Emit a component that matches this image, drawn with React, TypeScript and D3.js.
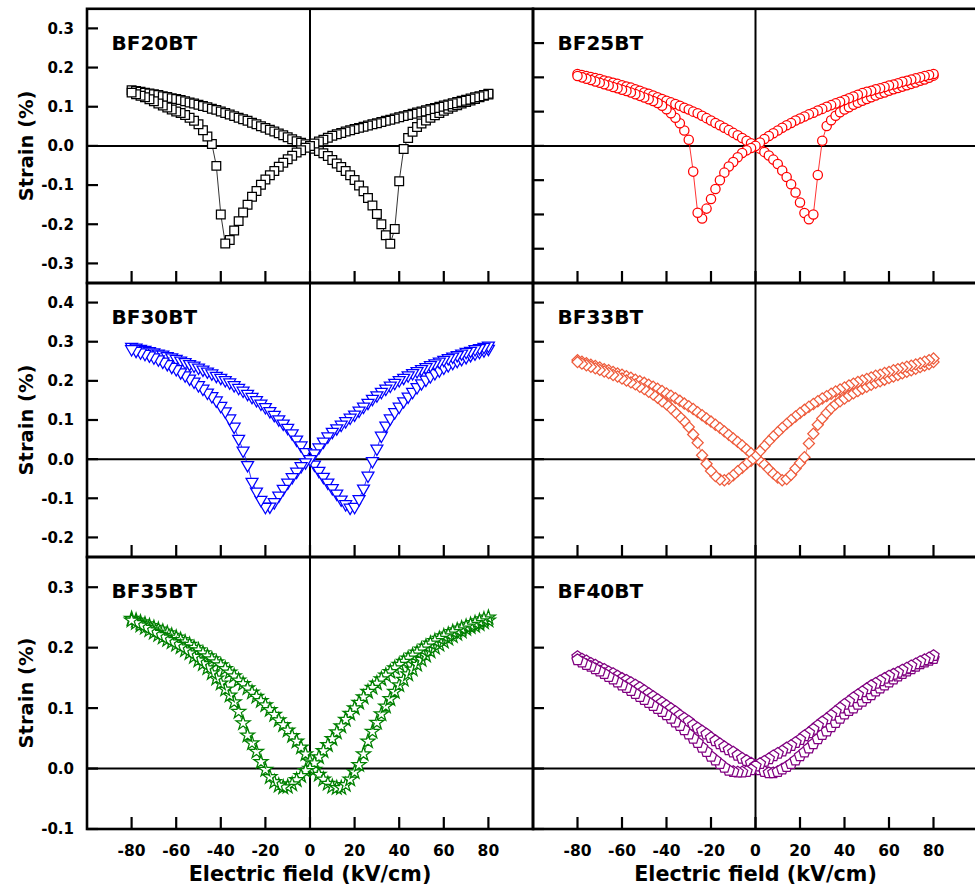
import React from 'react';
import * as d3 from 'd3';

// Electric field grid (kV/cm)
const FIELD = [
  -80, -78, -76, -74, -72, -70, -68, -66, -64, -62, -60, -58, -56, -54, -52, -50, -48, -46, -44, -42,
  -40, -38, -36, -34, -32, -30, -28, -26, -24, -22, -20, -18, -16, -14, -12, -10, -8, -6, -4, -2,
  0, 2, 4, 6, 8, 10, 12, 14, 16, 18, 20, 22, 24, 26, 28, 30, 32, 34, 36, 38,
  40, 42, 44, 46, 48, 50, 52, 54, 56, 58, 60, 62, 64, 66, 68, 70, 72, 74, 76, 78, 80,
];

// Strain (%) values aligned with FIELD; "UP" = field rising branch, "DOWN" = field falling branch
const BF20BT_UP = [
  0.142, 0.140, 0.138, 0.136, 0.134, 0.132, 0.130, 0.127, 0.125, 0.122, 0.120, 0.117, 0.114, 0.111, 0.108, 0.105, 0.102, 0.099, 0.095, 0.092,
  0.088, 0.084, 0.080, 0.076, 0.072, 0.068, 0.064, 0.059, 0.055, 0.050, 0.046, 0.041, 0.037, 0.032, 0.027, 0.022, 0.017, 0.012, 0.008, 0.004,
  0.000, -0.007, -0.013, -0.019, -0.026, -0.036, -0.045, -0.054, -0.064, -0.075, -0.087, -0.101, -0.116, -0.133, -0.152, -0.174, -0.200, -0.228, -0.250, -0.212,
  -0.090, -0.008, 0.020, 0.036, 0.048, 0.057, 0.065, 0.072, 0.078, 0.084, 0.090, 0.095, 0.100, 0.104, 0.108, 0.112, 0.116, 0.120, 0.124, 0.128, 0.131,
];
const BF20BT_DOWN = [
  0.136, 0.132, 0.128, 0.124, 0.119, 0.114, 0.108, 0.103, 0.098, 0.093, 0.088, 0.084, 0.079, 0.072, 0.064, 0.055, 0.040, 0.024, 0.005, -0.051,
  -0.175, -0.249, -0.240, -0.216, -0.192, -0.170, -0.150, -0.130, -0.115, -0.099, -0.086, -0.075, -0.064, -0.053, -0.043, -0.034, -0.025, -0.017, -0.011, -0.005,
  0.000, 0.006, 0.011, 0.016, 0.021, 0.026, 0.030, 0.033, 0.037, 0.040, 0.043, 0.046, 0.049, 0.052, 0.055, 0.058, 0.061, 0.064, 0.067, 0.070,
  0.073, 0.076, 0.079, 0.082, 0.085, 0.088, 0.091, 0.094, 0.097, 0.100, 0.103, 0.106, 0.109, 0.112, 0.115, 0.118, 0.121, 0.124, 0.127, 0.130, 0.133,
];

const BF25BT_UP = [
  0.210, 0.207, 0.204, 0.201, 0.198, 0.195, 0.191, 0.188, 0.184, 0.181, 0.177, 0.173, 0.170, 0.165, 0.161, 0.156, 0.152, 0.147, 0.142, 0.137,
  0.132, 0.127, 0.122, 0.117, 0.111, 0.106, 0.100, 0.095, 0.088, 0.081, 0.074, 0.067, 0.060, 0.053, 0.046, 0.038, 0.031, 0.023, 0.015, 0.008,
  0.000, -0.008, -0.018, -0.028, -0.040, -0.053, -0.072, -0.091, -0.112, -0.136, -0.165, -0.196, -0.214, -0.200, -0.085, 0.015, 0.058, 0.075, 0.088, 0.098,
  0.106, 0.113, 0.120, 0.126, 0.132, 0.137, 0.142, 0.147, 0.152, 0.156, 0.161, 0.165, 0.169, 0.173, 0.177, 0.181, 0.185, 0.190, 0.194, 0.199, 0.205,
];
const BF25BT_DOWN = [
  0.204, 0.200, 0.196, 0.192, 0.188, 0.184, 0.180, 0.176, 0.172, 0.168, 0.164, 0.160, 0.156, 0.151, 0.146, 0.141, 0.136, 0.131, 0.125, 0.117,
  0.107, 0.095, 0.082, 0.066, 0.045, 0.018, -0.075, -0.195, -0.212, -0.183, -0.155, -0.126, -0.100, -0.078, -0.060, -0.047, -0.033, -0.021, -0.013, -0.006,
  0.000, 0.010, 0.020, 0.029, 0.037, 0.045, 0.053, 0.060, 0.067, 0.074, 0.080, 0.086, 0.092, 0.097, 0.103, 0.108, 0.114, 0.119, 0.124, 0.129,
  0.134, 0.139, 0.144, 0.149, 0.154, 0.158, 0.161, 0.165, 0.168, 0.172, 0.176, 0.179, 0.183, 0.187, 0.190, 0.194, 0.197, 0.200, 0.204, 0.207, 0.210,
];

const BF30BT_UP = [
  0.287, 0.285, 0.282, 0.279, 0.276, 0.273, 0.270, 0.267, 0.263, 0.260, 0.256, 0.252, 0.248, 0.243, 0.239, 0.234, 0.229, 0.224, 0.219, 0.213,
  0.208, 0.202, 0.196, 0.189, 0.182, 0.175, 0.167, 0.159, 0.151, 0.142, 0.133, 0.123, 0.113, 0.102, 0.091, 0.080, 0.066, 0.050, 0.035, 0.018,
  0.000, -0.014, -0.030, -0.045, -0.060, -0.074, -0.088, -0.103, -0.115, -0.124, -0.122, -0.102, -0.075, -0.042, -0.005, 0.027, 0.060, 0.086, 0.104, 0.120,
  0.134, 0.148, 0.160, 0.172, 0.184, 0.194, 0.203, 0.212, 0.220, 0.227, 0.234, 0.240, 0.246, 0.251, 0.256, 0.261, 0.266, 0.270, 0.274, 0.278, 0.282,
];
const BF30BT_DOWN = [
  0.281, 0.277, 0.273, 0.269, 0.265, 0.260, 0.255, 0.249, 0.243, 0.236, 0.230, 0.222, 0.214, 0.206, 0.198, 0.189, 0.180, 0.170, 0.161, 0.150,
  0.136, 0.122, 0.104, 0.083, 0.052, 0.022, -0.015, -0.058, -0.083, -0.104, -0.122, -0.121, -0.110, -0.093, -0.076, -0.060, -0.046, -0.032, -0.018, -0.008,
  0.000, 0.015, 0.030, 0.045, 0.058, 0.070, 0.079, 0.088, 0.097, 0.106, 0.114, 0.124, 0.134, 0.144, 0.154, 0.163, 0.172, 0.180, 0.188, 0.195,
  0.202, 0.208, 0.214, 0.220, 0.225, 0.230, 0.235, 0.240, 0.245, 0.249, 0.254, 0.258, 0.262, 0.266, 0.270, 0.274, 0.277, 0.281, 0.284, 0.287, 0.290,
];

const BF33BT_UP = [
  0.253, 0.249, 0.245, 0.241, 0.238, 0.234, 0.230, 0.227, 0.223, 0.219, 0.216, 0.212, 0.208, 0.203, 0.199, 0.195, 0.190, 0.185, 0.180, 0.174,
  0.168, 0.162, 0.156, 0.149, 0.142, 0.135, 0.128, 0.120, 0.112, 0.104, 0.096, 0.088, 0.080, 0.071, 0.062, 0.053, 0.044, 0.035, 0.025, 0.015,
  0.005, -0.005, -0.014, -0.026, -0.037, -0.047, -0.054, -0.051, -0.040, -0.024, -0.010, 0.005, 0.040, 0.065, 0.088, 0.104, 0.118, 0.130, 0.140, 0.148,
  0.155, 0.162, 0.168, 0.174, 0.180, 0.185, 0.190, 0.195, 0.199, 0.203, 0.207, 0.211, 0.215, 0.219, 0.223, 0.227, 0.231, 0.235, 0.239, 0.243, 0.248,
];
const BF33BT_DOWN = [
  0.248, 0.244, 0.240, 0.236, 0.232, 0.228, 0.224, 0.220, 0.215, 0.211, 0.206, 0.201, 0.196, 0.191, 0.185, 0.179, 0.172, 0.165, 0.157, 0.148,
  0.140, 0.130, 0.119, 0.108, 0.097, 0.082, 0.063, 0.042, 0.010, -0.012, -0.030, -0.043, -0.052, -0.054, -0.050, -0.041, -0.031, -0.022, -0.012, -0.004,
  0.006, 0.020, 0.033, 0.046, 0.058, 0.069, 0.080, 0.090, 0.100, 0.109, 0.118, 0.126, 0.134, 0.141, 0.148, 0.155, 0.161, 0.167, 0.173, 0.178,
  0.183, 0.188, 0.193, 0.197, 0.201, 0.205, 0.209, 0.213, 0.216, 0.220, 0.223, 0.227, 0.230, 0.233, 0.236, 0.239, 0.242, 0.245, 0.249, 0.253, 0.257,
];

const BF35BT_UP = [
  0.248, 0.245, 0.242, 0.239, 0.236, 0.233, 0.230, 0.227, 0.224, 0.220, 0.217, 0.213, 0.209, 0.205, 0.200, 0.196, 0.191, 0.186, 0.181, 0.176,
  0.171, 0.165, 0.159, 0.153, 0.146, 0.140, 0.133, 0.126, 0.119, 0.112, 0.105, 0.097, 0.089, 0.080, 0.072, 0.063, 0.054, 0.045, 0.035, 0.024,
  0.012, -0.002, -0.010, -0.018, -0.025, -0.030, -0.032, -0.032, -0.027, -0.018, -0.006, 0.006, 0.024, 0.045, 0.061, 0.076, 0.090, 0.103, 0.115, 0.127,
  0.138, 0.147, 0.156, 0.164, 0.172, 0.180, 0.187, 0.194, 0.200, 0.205, 0.210, 0.215, 0.219, 0.223, 0.227, 0.231, 0.234, 0.236, 0.239, 0.242, 0.245,
];
const BF35BT_DOWN = [
  0.245, 0.241, 0.237, 0.233, 0.229, 0.225, 0.221, 0.217, 0.213, 0.209, 0.205, 0.201, 0.196, 0.191, 0.185, 0.179, 0.173, 0.166, 0.158, 0.149,
  0.141, 0.131, 0.121, 0.110, 0.094, 0.075, 0.055, 0.042, 0.028, 0.011, -0.002, -0.014, -0.022, -0.028, -0.031, -0.030, -0.026, -0.019, -0.012, -0.004,
  0.000, 0.009, 0.019, 0.029, 0.039, 0.049, 0.060, 0.070, 0.081, 0.091, 0.100, 0.109, 0.118, 0.127, 0.134, 0.141, 0.148, 0.154, 0.160, 0.166,
  0.172, 0.177, 0.182, 0.187, 0.192, 0.197, 0.202, 0.207, 0.211, 0.215, 0.219, 0.222, 0.226, 0.229, 0.232, 0.235, 0.238, 0.241, 0.244, 0.247, 0.250,
];

const BF40BT_UP = [
  0.185, 0.181, 0.178, 0.174, 0.171, 0.167, 0.164, 0.160, 0.157, 0.153, 0.149, 0.146, 0.142, 0.138, 0.134, 0.129, 0.124, 0.119, 0.114, 0.109,
  0.104, 0.099, 0.094, 0.088, 0.083, 0.078, 0.072, 0.067, 0.062, 0.057, 0.051, 0.046, 0.041, 0.036, 0.031, 0.027, 0.022, 0.017, 0.013, 0.009,
  0.005, -0.002, -0.005, -0.007, -0.007, -0.005, -0.001, 0.003, 0.008, 0.014, 0.021, 0.027, 0.034, 0.041, 0.049, 0.056, 0.062, 0.069, 0.076, 0.083,
  0.090, 0.096, 0.100, 0.106, 0.111, 0.117, 0.122, 0.128, 0.133, 0.138, 0.143, 0.148, 0.153, 0.157, 0.161, 0.165, 0.169, 0.173, 0.176, 0.179, 0.182,
];
const BF40BT_DOWN = [
  0.180, 0.176, 0.172, 0.169, 0.165, 0.161, 0.157, 0.152, 0.148, 0.143, 0.138, 0.134, 0.129, 0.124, 0.119, 0.114, 0.109, 0.104, 0.099, 0.094,
  0.089, 0.083, 0.077, 0.071, 0.064, 0.057, 0.050, 0.043, 0.035, 0.028, 0.020, 0.014, 0.008, 0.002, -0.003, -0.005, -0.006, -0.006, -0.005, -0.002,
  0.004, 0.008, 0.012, 0.016, 0.021, 0.025, 0.029, 0.034, 0.038, 0.043, 0.048, 0.054, 0.059, 0.065, 0.071, 0.077, 0.082, 0.088, 0.094, 0.100,
  0.106, 0.111, 0.117, 0.122, 0.127, 0.132, 0.137, 0.141, 0.145, 0.149, 0.153, 0.156, 0.159, 0.163, 0.166, 0.170, 0.173, 0.177, 0.180, 0.183, 0.187,
];

const X_TICKS = [-80, -60, -40, -20, 0, 20, 40, 60, 80];
const X_TICK_LABELS = ['-80', '-60', '-40', '-20', '0', '20', '40', '60', '80'];
const Y_TICKS_ROW1_LEFT = [0.3, 0.2, 0.1, 0.0, -0.1, -0.2, -0.3];
const Y_TICK_LABELS_ROW1 = ['0.3', '0.2', '0.1', '0.0', '-0.1', '-0.2', '-0.3'];
const Y_TICKS_ROW1_RIGHT = [0.3, 0.2, 0.1, 0.0, -0.1, -0.2, -0.3];
const Y_TICKS_ROW2 = [0.4, 0.3, 0.2, 0.1, 0.0, -0.1, -0.2];
const Y_TICK_LABELS_ROW2 = ['0.4', '0.3', '0.2', '0.1', '0.0', '-0.1', '-0.2'];
const Y_TICKS_ROW3 = [0.3, 0.2, 0.1, 0.0, -0.1];
const Y_TICK_LABELS_ROW3 = ['0.3', '0.2', '0.1', '0.0', '-0.1'];
const SAMPLE_NAMES = ['BF20BT', 'BF25BT', 'BF30BT', 'BF33BT', 'BF35BT', 'BF40BT'];
const X_TITLE = 'Electric field (kV/cm)';
const Y_TITLE = 'Strain (%)';

// ---------- layout ----------
const W = 975;
const H = 891;
const COLS: [number, number][] = [[87, 533], [533, 978]];
const ROWS: [number, number][] = [[8.8, 283], [283, 557], [557, 829]];
const FONT = '"DejaVu Sans", Verdana, sans-serif';

const symbolPentagon = {
  draw(ctx: any, size: number) {
    const r = Math.sqrt(size / 2.3776);
    for (let i = 0; i < 5; i++) {
      const a = -Math.PI / 2 + (i * 2 * Math.PI) / 5;
      const px = r * Math.cos(a);
      const py = r * Math.sin(a);
      if (i === 0) ctx.moveTo(px, py);
      else ctx.lineTo(px, py);
    }
    ctx.closePath();
  },
};

type Panel = {
  name: string;
  up: number[];
  down: number[];
  color: string;
  symbol: any;
  size: number;
  rotate: number;
  col: number;
  row: number;
  yDomain: [number, number];
  yTicks: number[];
  yTickLabels: string[] | null;
};

const PANELS: Panel[] = [
  { name: SAMPLE_NAMES[0], up: BF20BT_UP, down: BF20BT_DOWN, color: '#000000', symbol: d3.symbolSquare, size: 76, rotate: 0, col: 0, row: 0, yDomain: [-0.35, 0.35], yTicks: Y_TICKS_ROW1_LEFT, yTickLabels: Y_TICK_LABELS_ROW1 },
  { name: SAMPLE_NAMES[1], up: BF25BT_UP, down: BF25BT_DOWN, color: '#FF0000', symbol: d3.symbolCircle, size: 68, rotate: 0, col: 1, row: 0, yDomain: [-0.4, 0.4], yTicks: Y_TICKS_ROW1_RIGHT, yTickLabels: null },
  { name: SAMPLE_NAMES[2], up: BF30BT_UP, down: BF30BT_DOWN, color: '#0000FF', symbol: d3.symbolTriangle, size: 62, rotate: 180, col: 0, row: 1, yDomain: [-0.25, 0.45], yTicks: Y_TICKS_ROW2, yTickLabels: Y_TICK_LABELS_ROW2 },
  { name: SAMPLE_NAMES[3], up: BF33BT_UP, down: BF33BT_DOWN, color: '#EE5A3A', symbol: d3.symbolSquare, size: 62, rotate: 45, col: 1, row: 1, yDomain: [-0.25, 0.45], yTicks: Y_TICKS_ROW2, yTickLabels: null },
  { name: SAMPLE_NAMES[4], up: BF35BT_UP, down: BF35BT_DOWN, color: '#008000', symbol: d3.symbolStar, size: 62, rotate: 0, col: 0, row: 2, yDomain: [-0.1, 0.35], yTicks: Y_TICKS_ROW3, yTickLabels: Y_TICK_LABELS_ROW3 },
  { name: SAMPLE_NAMES[5], up: BF40BT_UP, down: BF40BT_DOWN, color: '#800080', symbol: symbolPentagon, size: 82, rotate: 0, col: 1, row: 2, yDomain: [-0.1, 0.35], yTicks: Y_TICKS_ROW3, yTickLabels: null },
];

function PanelView({ p }: { p: Panel }) {
  const [x0, x1] = COLS[p.col];
  const [y0, y1] = ROWS[p.row];
  const x = d3.scaleLinear().domain([-100, 100]).range([x0, x1]);
  const y = d3.scaleLinear().domain(p.yDomain).range([y1, y0]);
  const upPts: [number, number][] = FIELD.map((e, i) => [e, p.up[i]] as [number, number]).filter((d) => d[1] !== undefined);
  const downPts: [number, number][] = FIELD.map((e, i) => [e, p.down[i]] as [number, number])
    .filter((d) => d[1] !== undefined)
    .reverse();
  const line = d3.line<[number, number]>().x((d) => x(d[0])).y((d) => y(d[1]));
  const sym = d3.symbol().type(p.symbol).size(p.size)() as string;
  const isBottom = p.row === 2;
  return (
    <g>
      {/* zero lines */}
      <line x1={x0} x2={x1} y1={y(0)} y2={y(0)} stroke="#000" strokeWidth={2} />
      <line x1={x(0)} x2={x(0)} y1={y0} y2={y1} stroke="#000" strokeWidth={2} />
      {/* y ticks */}
      {p.yTicks.map((t) => (
        <line key={'yt' + t} x1={x0} x2={x0 + 11} y1={y(t)} y2={y(t)} stroke="#000" strokeWidth={2.2} />
      ))}
      {/* x ticks */}
      {X_TICKS.map((t) => (
        <line key={'xt' + t} x1={x(t)} x2={x(t)} y1={y1} y2={y1 - 12} stroke="#000" strokeWidth={2.2} />
      ))}
      {/* y tick labels */}
      {p.yTickLabels &&
        p.yTicks.map((t, i) => (
          <text key={'yl' + t} x={74} y={y(t)} dy="0.36em" textAnchor="end" fontSize={15} fontWeight="bold" fontFamily={FONT} fill="#000">
            {p.yTickLabels![i]}
          </text>
        ))}
      {/* x tick labels */}
      {isBottom &&
        X_TICKS.map((t, i) => (
          <text key={'xl' + t} x={x(t)} y={856} textAnchor="middle" fontSize={15.5} fontWeight="bold" fontFamily={FONT} fill="#000">
            {X_TICK_LABELS[i]}
          </text>
        ))}
      {isBottom && (
        <text x={x(0)} y={881} textAnchor="middle" fontSize={20.7} fontWeight="bold" fontFamily={FONT} fill="#000">
          {X_TITLE}
        </text>
      )}
      {p.col === 0 && (
        <text
          transform={`translate(33,${(y0 + y1) / 2}) rotate(-90)`}
          textAnchor="middle"
          fontSize={19.5}
          fontWeight="bold"
          fontFamily={FONT}
          fill="#000"
        >
          {Y_TITLE}
        </text>
      )}
      {/* data */}
      <path d={line(upPts) || ''} fill="none" stroke={p.color} strokeWidth={0.8} />
      <path d={line(downPts) || ''} fill="none" stroke={p.color} strokeWidth={0.8} />
      {upPts.concat(downPts).map((d, i) => (
        <path
          key={'m' + i}
          d={sym}
          transform={`translate(${x(d[0])},${y(d[1])})${p.rotate ? ` rotate(${p.rotate})` : ''}`}
          fill="#fff"
          stroke={p.color}
          strokeWidth={1.25}
        />
      ))}
      {/* label */}
      <text x={x0 + 24.5} y={y0 + 41} fontSize={20} fontWeight="bold" fontFamily={FONT} fill="#000">
        {p.name}
      </text>
      {/* frame */}
      <rect x={x0} y={y0} width={x1 - x0} height={y1 - y0} fill="none" stroke="#000" strokeWidth={2.6} />
    </g>
  );
}

export default function App() {
  return (
    <svg
      width={W}
      height={H}
      viewBox={`0 0 ${W} ${H}`}
      style={{ position: 'absolute', left: 0, top: 0, background: '#fff' }}
    >
      <rect x={0} y={0} width={W} height={H} fill="#fff" />
      {PANELS.map((p) => (
        <PanelView key={p.name} p={p} />
      ))}
    </svg>
  );
}
